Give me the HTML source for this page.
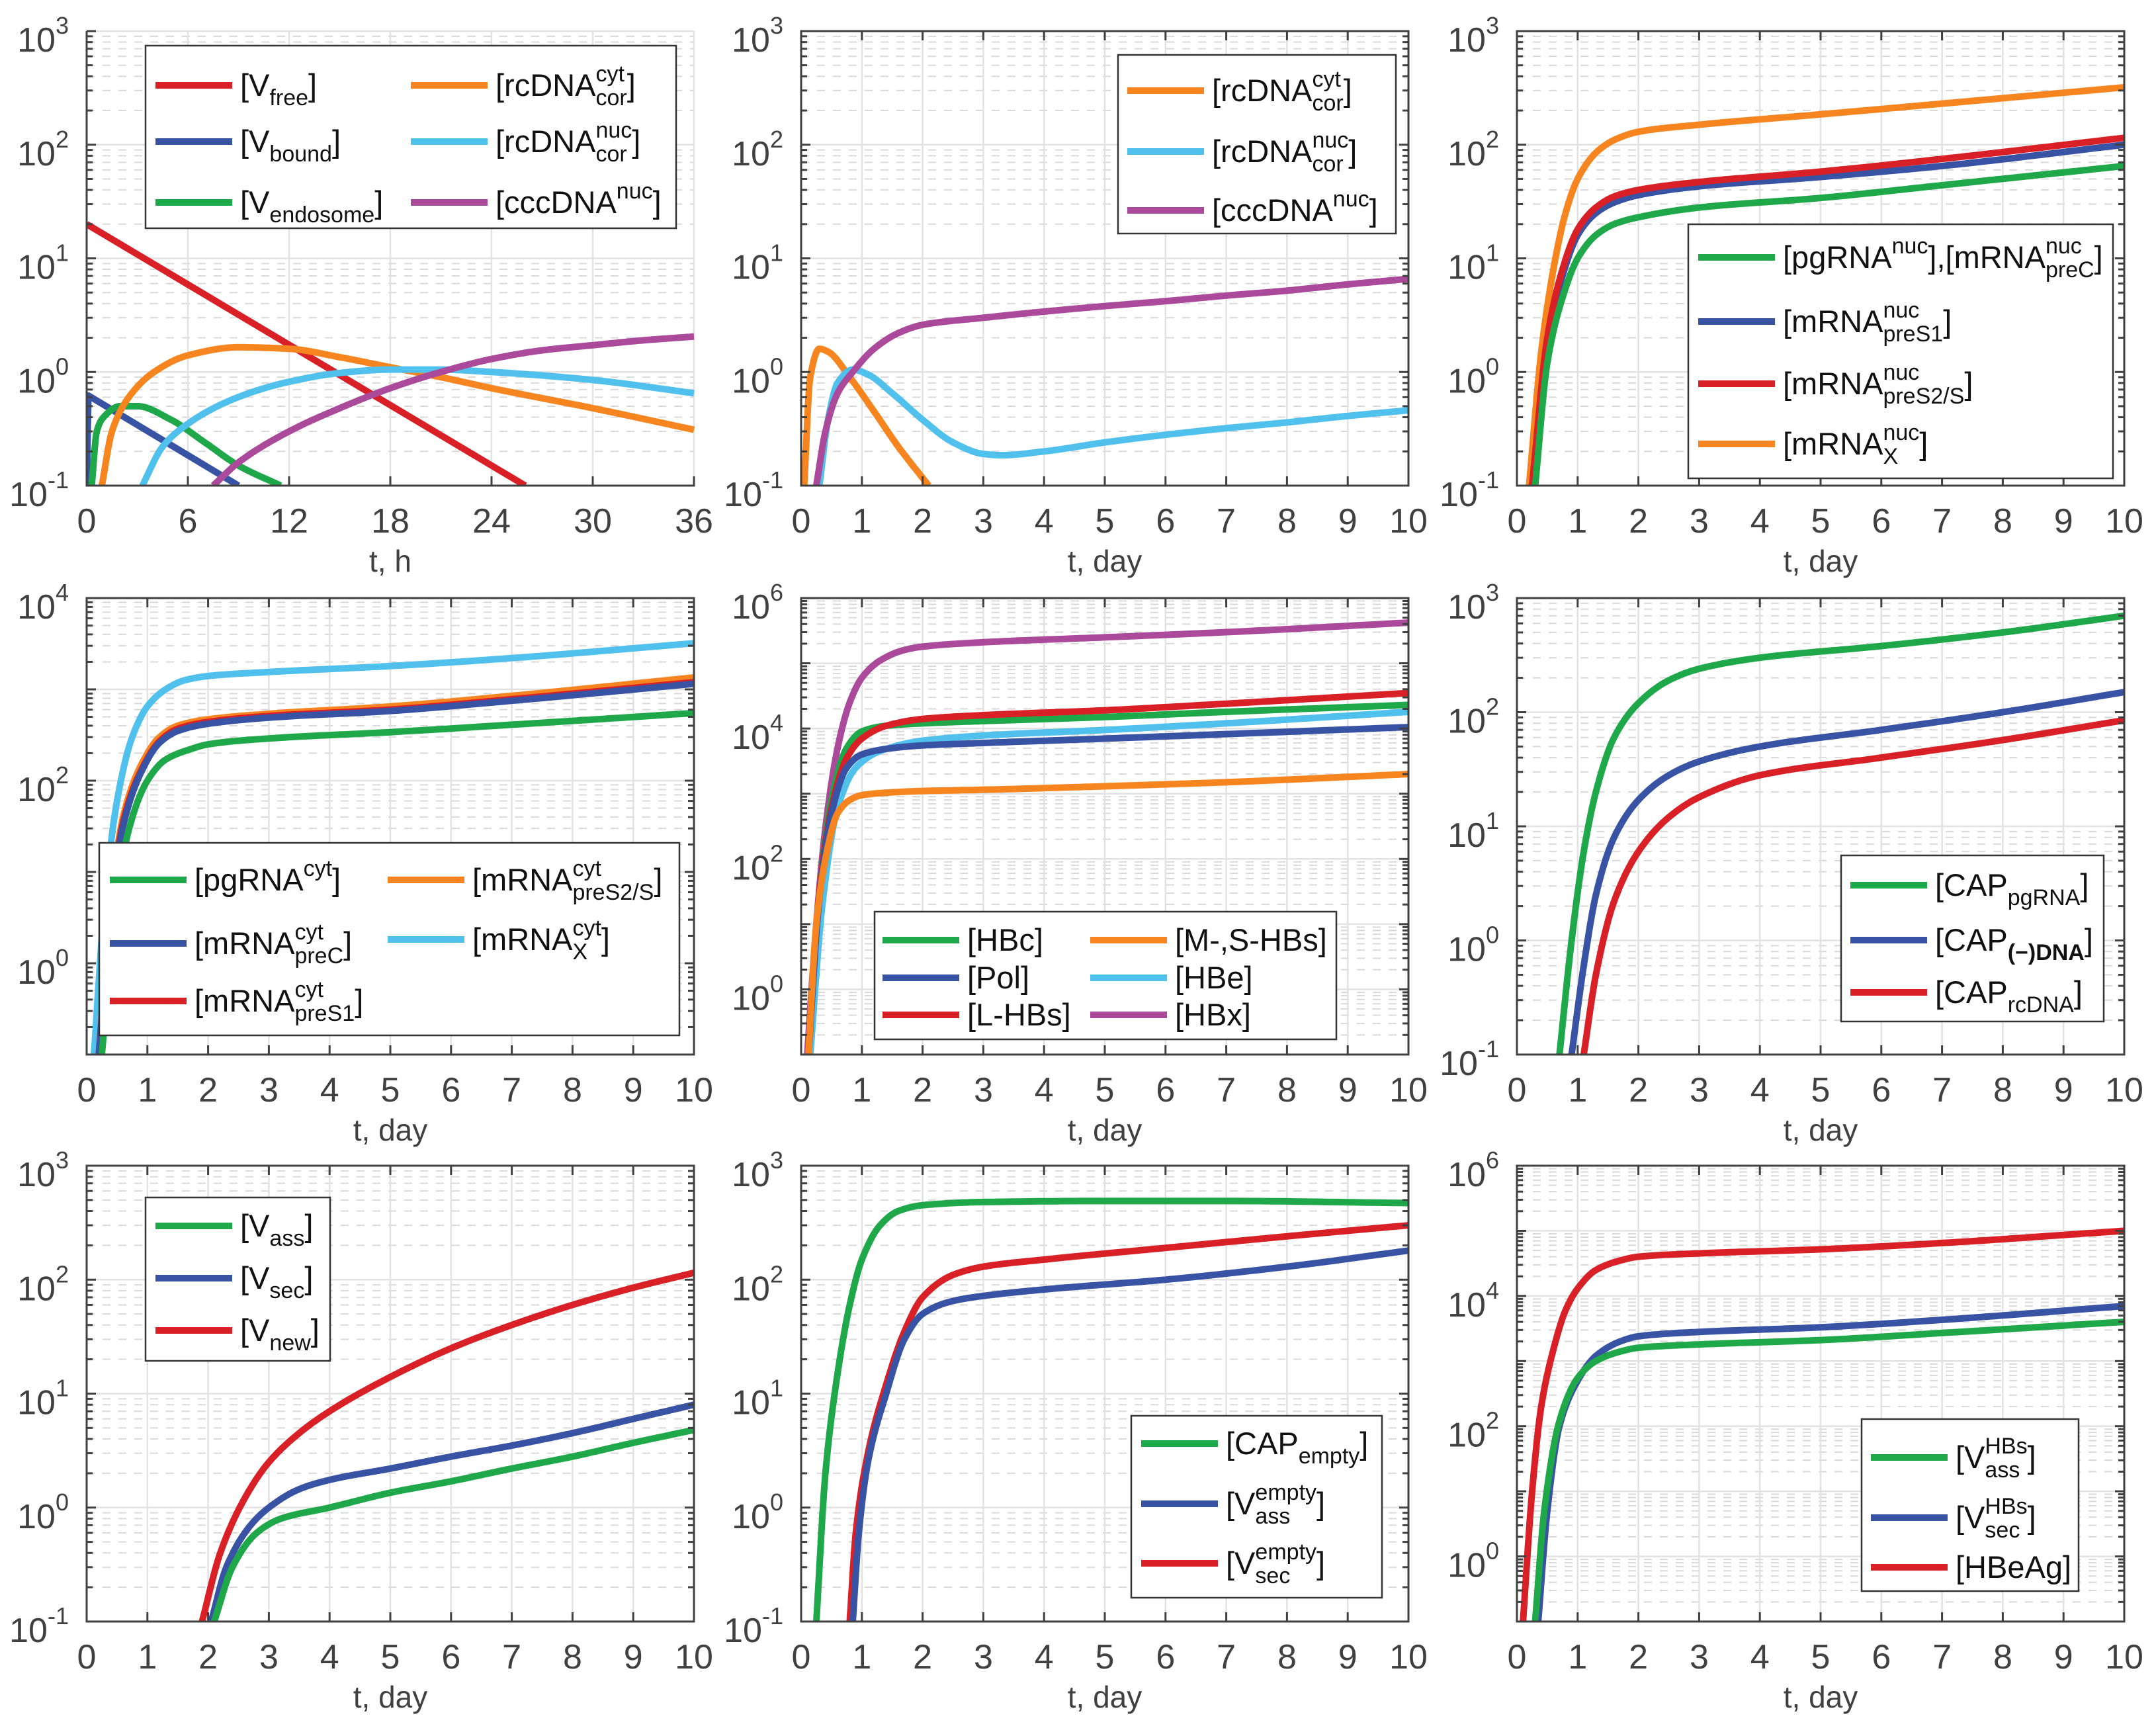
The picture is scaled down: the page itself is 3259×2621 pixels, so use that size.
<!DOCTYPE html>
<html><head><meta charset="utf-8"><style>
html,body{margin:0;padding:0;background:#fff;}
svg{display:block;font-family:"Liberation Sans",Arial,sans-serif;}
</style></head><body>
<svg id="fig" width="3259" height="2621" viewBox="0 0 3259 2621" xmlns="http://www.w3.org/2000/svg"></svg>
<script>
// ===== data =====
const C={red:'#d92027',blue:'#3953a4',green:'#1ea84a',orange:'#f6841f',cyan:'#50c1ec',purple:'#ab4a9b'};
const p1Vfree=[[0,20],[26,0.1]];
const p1Vbound=[[0,0.1],[0.1,0.62],[9,0.1]];
const p1Vendo=[[0.3,0.1],[0.6,0.3],[1,0.4],[2,0.5],[3,0.5],[5,0.38],[7,0.24],[9,0.15],[11.5,0.1]];
const p1RcCyt=[[0.9,0.1],[1.5,0.3],[2.5,0.6],[4,1.0],[6,1.4],[9,1.65],[12,1.6],[15,1.35],[18,1.1],[21,0.9],[24,0.72],[30,0.48],[36,0.31]];
const p1RcNuc=[[3.3,0.1],[4.5,0.22],[6,0.35],[8,0.52],[10,0.68],[12,0.82],[15,0.98],[18,1.05],[21,1.05],[24,1.0],[30,0.85],[36,0.65]];
const p1ccc=[[7.5,0.1],[9,0.16],[12,0.3],[15,0.48],[18,0.72],[21,1.0],[24,1.3],[27,1.55],[30,1.72],[33,1.9],[36,2.05]];
const p2RcCyt=[[0.05,0.1],[0.15,0.9],[0.3,1.6],[0.45,1.5],[0.8,0.9],[1.2,0.45],[1.6,0.22],[2.1,0.1]];
const p2RcNuc=[[0.3,0.1],[0.45,0.4],[0.6,0.8],[0.85,1.05],[1.1,0.95],[1.5,0.65],[2,0.38],[2.5,0.24],[3,0.19],[3.3,0.185],[4,0.2],[5,0.24],[6,0.28],[7,0.32],[8,0.36],[9,0.41],[10,0.46]];
const p2ccc=[[0.25,0.1],[0.4,0.3],[0.6,0.65],[0.85,1.0],[1.2,1.6],[1.6,2.2],[2,2.6],[3,3.0],[4,3.4],[5,3.8],[6,4.2],[7,4.7],[8,5.2],[9,5.9],[10,6.6]];
const p3X=[[0.2,0.1],[0.4,1.5],[0.6,8],[0.8,25],[1,50],[1.3,85],[1.6,110],[2,130],[3,150],[5,185],[7,230],[10,320]];
const p3S2=[[0.25,0.1],[0.5,2],[0.75,8],[1,18],[1.3,28],[1.6,35],[2,40],[3,47],[5,58],[7,75],[10,115]];
const p3S1=[[0.25,0.1],[0.5,1.8],[0.75,7],[1,16],[1.3,25],[1.6,31],[2,36],[3,43],[5,52],[7,65],[10,100]];
const p3pg=[[0.3,0.1],[0.5,1.2],[0.75,4.5],[1,10],[1.3,16],[1.6,20],[2,23],[3,28],[5,34],[7,44],[10,65]];
const p4X=[[0.12,0.1],[0.3,5],[0.5,60],[0.75,300],[1,650],[1.3,1000],[1.6,1250],[2,1400],[3,1550],[5,1800],[7,2200],[10,3200]];
const p4S2=[[0.2,0.1],[0.4,5],[0.6,40],[0.9,150],[1.2,300],[1.5,400],[2,470],[3,540],[5,650],[7,850],[10,1350]];
const p4S1=[[0.2,0.1],[0.4,4],[0.6,35],[0.9,130],[1.2,270],[1.5,370],[2,440],[3,510],[5,600],[7,780],[10,1200]];
const p4preC=[[0.2,0.1],[0.4,4],[0.6,32],[0.9,125],[1.2,260],[1.5,350],[2,420],[3,490],[5,580],[7,750],[10,1150]];
const p4pg=[[0.25,0.1],[0.45,3],[0.7,30],[1,100],[1.3,170],[1.7,220],[2,250],[3,290],[5,340],[7,410],[10,550]];
const p5HBx=[[0.1,0.1],[0.25,10],[0.4,300],[0.6,5000],[0.8,25000],[1,60000],[1.3,110000],[1.7,160000],[2,180000],[3,210000],[5,250000],[7,300000],[10,420000]];
const p5L=[[0.12,0.1],[0.3,30],[0.5,600],[0.75,3500],[1,7000],[1.4,11000],[2,14000],[3,16000],[5,19000],[7,24000],[10,35000]];
const p5HBc=[[0.12,0.1],[0.3,30],[0.5,800],[0.75,5000],[1,9000],[1.4,11000],[2,12000],[3,13000],[5,15000],[7,18000],[10,23000]];
const p5HBe=[[0.15,0.1],[0.35,20],[0.6,600],[0.9,2500],[1.3,4500],[2,6500],[3,7800],[5,9500],[7,12000],[10,18000]];
const p5Pol=[[0.12,0.1],[0.3,25],[0.5,500],[0.75,2500],[1,4000],[1.5,5000],[2,5500],[3,6000],[5,7000],[7,8200],[10,10500]];
const p5MS=[[0.12,0.1],[0.25,10],[0.4,100],[0.6,500],[0.8,800],[1,950],[1.5,1050],[2,1100],[3,1150],[5,1300],[7,1500],[10,2000]];
const p6pg=[[0.7,0.1],[0.9,1],[1.1,6],[1.3,20],[1.6,60],[2,120],[2.5,190],[3,240],[4,300],[6,380],[8,500],[10,700]];
const p6neg=[[0.9,0.1],[1.1,0.6],[1.3,2.5],[1.6,8],[2,17],[2.5,28],[3,37],[4,50],[6,70],[8,100],[10,150]];
const p6rc=[[1.1,0.1],[1.3,0.5],[1.6,2.2],[2,6],[2.5,12],[3,18],[4,28],[6,40],[8,57],[10,85]];
const p7new=[[1.9,0.1],[2.2,0.4],[2.6,1.2],[3,2.5],[3.5,4.5],[4,7],[5,14],[6,25],[7,40],[8,60],[9,85],[10,115]];
const p7sec=[[2.05,0.1],[2.3,0.3],[2.7,0.7],[3,1.0],[3.5,1.45],[4,1.75],[5,2.2],[6,2.8],[7,3.5],[8,4.5],[9,6],[10,8]];
const p7ass=[[2.1,0.1],[2.4,0.3],[2.8,0.6],[3.2,0.8],[4,1.0],[5,1.35],[6,1.7],[7,2.2],[8,2.8],[9,3.7],[10,4.8]];
const p8cap=[[0.25,0.1],[0.4,2],[0.6,15],[0.8,60],[1,150],[1.3,300],[1.6,400],[2,450],[3,480],[5,490],[7,490],[10,470]];
const p8sec=[[0.8,0.1],[0.9,0.6],[1.1,3],[1.4,12],[1.7,35],[2,70],[2.5,110],[3,130],[4,150],[6,190],[8,240],[10,300]];
const p8ass=[[0.85,0.1],[0.95,0.6],[1.1,2.5],[1.4,10],[1.7,30],[2,50],[2.5,65],[3,72],[4,82],[6,100],[8,130],[10,180]];
const p9HBeAg=[[0.1,0.1],[0.25,10],[0.4,200],[0.6,1500],[0.8,6000],[1,13000],[1.3,25000],[1.7,35000],[2,40000],[3,45000],[5,52000],[7,65000],[10,100000]];
const p9sec=[[0.35,0.1],[0.5,5],[0.7,100],[1,500],[1.3,1200],[1.7,2000],[2,2400],[3,2800],[5,3300],[7,4300],[10,7000]];
const p9ass=[[0.3,0.1],[0.45,5],[0.7,120],[1,550],[1.3,1000],[1.7,1400],[2,1600],[3,1800],[5,2100],[7,2700],[10,4000]];
const xTicksH=[0,6,12,18,24,30,36];
const xTicksD=[0,1,2,3,4,5,6,7,8,9,10];
const yTicksAll=[-1,0,1,2,3];
const yTicksEven4=[0,2,4];
const yTicksEven6=[0,2,4,6];

const L={
Vfree:[['[V','n'],['free','sub'],[']','n']],
Vbound:[['[V','n'],['bound','sub'],[']','n']],
Vendo:[['[V','n'],['endosome','sub'],[']','n']],
rcCyt:[['[rcDNA','n'],[['cyt','cor'],'ss'],[']','n']],
rcNuc:[['[rcDNA','n'],[['nuc','cor'],'ss'],[']','n']],
ccc:[['[cccDNA','n'],[' nuc','sup'],[']','n']],
pgmr:[['[pgRNA','n'],['nuc','sup'],['],[mRNA','n'],[['nuc','preC'],'ss'],[']','n']],
mS1n:[['[mRNA','n'],[['nuc','preS1'],'ss'],[']','n']],
mS2n:[['[mRNA','n'],[['nuc','preS2/S'],'ss'],[']','n']],
mXn:[['[mRNA','n'],[['nuc','X'],'ss'],[']','n']],
pgc:[['[pgRNA','n'],['cyt','sup'],[']','n']],
mpreCc:[['[mRNA','n'],[['cyt','preC'],'ss'],[']','n']],
mS1c:[['[mRNA','n'],[['cyt','preS1'],'ss'],[']','n']],
mS2c:[['[mRNA','n'],[['cyt','preS2/S'],'ss'],[']','n']],
mXc:[['[mRNA','n'],[['cyt','X'],'ss'],[']','n']],
HBc:[['[HBc]','n']],Pol:[['[Pol]','n']],LHBs:[['[L-HBs]','n']],MS:[['[M-,S-HBs]','n']],HBe:[['[HBe]','n']],HBx:[['[HBx]','n']],
CAPpg:[['[CAP','n'],['pgRNA','sub'],[']','n']],
CAPneg:[['[CAP','n'],['(\u2212)DNA','subb'],[']','n']],
CAPrc:[['[CAP','n'],['rcDNA','sub'],[']','n']],
Vass:[['[V','n'],['ass','sub'],[']','n']],Vsec:[['[V','n'],['sec','sub'],[']','n']],Vnew:[['[V','n'],['new','sub'],[']','n']],
CAPe:[['[CAP','n'],['empty','sub'],[']','n']],
Vae:[['[V','n'],[['empty','ass'],'ss'],[']','n']],
Vse:[['[V','n'],[['empty','sec'],'ss'],[']','n']],
VaH:[['[V','n'],[['HBs','ass'],'ss'],[']','n']],
VsH:[['[V','n'],[['HBs','sec'],'ss'],[']','n']],
HBeAg:[['[HBeAg]','n']]
};

const panels=[
{name:'panel-virus-entry',x0:131,x1:1049,y0:47,y1:734,xmax:36,xt:xTicksH,xl:'t, h',yd:[-1,3],yt:yTicksAll,lightBox:true,
 series:[['v-free',p1Vfree,C.red],['v-bound',p1Vbound,C.blue],['v-endosome',p1Vendo,C.green],['rcdna-cyt',p1RcCyt,C.orange],['rcdna-nuc',p1RcNuc,C.cyan],['cccdna',p1ccc,C.purple]],
 legend:{box:[220,69,1022,345],items:[[235,129,C.red,'Vfree'],[235,214,C.blue,'Vbound'],[235,306,C.green,'Vendo'],[621,129,C.orange,'rcCyt'],[621,214,C.cyan,'rcNuc'],[621,306,C.purple,'ccc']]}},
{name:'panel-cccdna',x0:1211,x1:2129,y0:47,y1:734,xmax:10,xt:xTicksD,xl:'t, day',yd:[-1,3],yt:yTicksAll,
 series:[['rcdna-cyt',p2RcCyt,C.orange],['rcdna-nuc',p2RcNuc,C.cyan],['cccdna',p2ccc,C.purple]],
 legend:{box:[1690,83,2110,353],items:[[1704,137,C.orange,'rcCyt'],[1704,229,C.cyan,'rcNuc'],[1704,318,C.purple,'ccc']]}},
{name:'panel-nuclear-rna',x0:2293,x1:3211,y0:47,y1:734,xmax:10,xt:xTicksD,xl:'t, day',yd:[-1,3],yt:yTicksAll,
 series:[['mrna-x',p3X,C.orange],['mrna-pres1',p3S1,C.blue],['mrna-pres2s',p3S2,C.red],['pgrna',p3pg,C.green]],
 legend:{box:[2552,339,3194,723],items:[[2567,389,C.green,'pgmr'],[2567,486,C.blue,'mS1n'],[2567,580,C.red,'mS2n'],[2567,671,C.orange,'mXn']]}},
{name:'panel-cyt-rna',x0:131,x1:1049,y0:904,y1:1594,xmax:10,xt:xTicksD,xl:'t, day',yd:[-1,4],yt:yTicksEven4,
 series:[['mrna-x',p4X,C.cyan],['mrna-pres2s',p4S2,C.orange],['mrna-pres1',p4S1,C.red],['mrna-prec',p4preC,C.blue],['pgrna',p4pg,C.green]],
 legend:{box:[150,1274,1027,1565],items:[[166,1330,C.green,'pgc'],[166,1426,C.blue,'mpreCc'],[166,1513,C.red,'mS1c'],[586,1330,C.orange,'mS2c'],[586,1420,C.cyan,'mXc']]}},
{name:'panel-proteins',x0:1211,x1:2129,y0:904,y1:1594,xmax:10,xt:xTicksD,xl:'t, day',yd:[-1,6],yt:yTicksEven6,
 series:[['hbx',p5HBx,C.purple],['hbc',p5HBc,C.green],['l-hbs',p5L,C.red],['hbe',p5HBe,C.cyan],['pol',p5Pol,C.blue],['ms-hbs',p5MS,C.orange]],
 legend:{box:[1322,1378,2020,1571],items:[[1334,1421,C.green,'HBc'],[1334,1478,C.blue,'Pol'],[1334,1534,C.red,'LHBs'],[1648,1421,C.orange,'MS'],[1648,1478,C.cyan,'HBe'],[1648,1534,C.purple,'HBx']]}},
{name:'panel-capsids',x0:2293,x1:3211,y0:904,y1:1594,xmax:10,xt:xTicksD,xl:'t, day',yd:[-1,3],yt:yTicksAll,
 series:[['cap-pgrna',p6pg,C.green],['cap-neg-dna',p6neg,C.blue],['cap-rcdna',p6rc,C.red]],
 legend:{box:[2783,1293,3180,1544],items:[[2797,1338,C.green,'CAPpg'],[2797,1421,C.blue,'CAPneg'],[2797,1500,C.red,'CAPrc']]}},
{name:'panel-virions',x0:131,x1:1049,y0:1762,y1:2451,xmax:10,xt:xTicksD,xl:'t, day',yd:[-1,3],yt:yTicksAll,
 series:[['v-new',p7new,C.red],['v-sec',p7sec,C.blue],['v-ass',p7ass,C.green]],
 legend:{box:[220,1810,499,2057],items:[[235,1853,C.green,'Vass'],[235,1932,C.blue,'Vsec'],[235,2011,C.red,'Vnew']]}},
{name:'panel-empty',x0:1211,x1:2129,y0:1762,y1:2451,xmax:10,xt:xTicksD,xl:'t, day',yd:[-1,3],yt:yTicksAll,
 series:[['cap-empty',p8cap,C.green],['v-sec-empty',p8sec,C.red],['v-ass-empty',p8ass,C.blue]],
 legend:{box:[1710,2140,2089,2415],items:[[1725,2182,C.green,'CAPe'],[1725,2273,C.blue,'Vae'],[1725,2363,C.red,'Vse']]}},
{name:'panel-hbs',x0:2293,x1:3211,y0:1762,y1:2451,xmax:10,xt:xTicksD,xl:'t, day',yd:[-1,6],yt:yTicksEven6,
 series:[['hbeag',p9HBeAg,C.red],['v-sec-hbs',p9sec,C.blue],['v-ass-hbs',p9ass,C.green]],
 legend:{box:[2814,2145,3142,2405],items:[[2828,2203,C.green,'VaH'],[2828,2294,C.blue,'VsH'],[2828,2369,C.red,'HBeAg']]}}
];

// ===== drawing =====
const NS='http://www.w3.org/2000/svg';
const svg=document.getElementById('fig');
function mk(tag,attrs,parent){const e=document.createElementNS(NS,tag);for(const k in attrs)e.setAttribute(k,attrs[k]);(parent||svg).appendChild(e);return e;}
const defs=mk('defs',{});
const AX='#404040',TF=52,TS=36,LF=47,LS=34;

function measure(str,size,weight){
  const t=mk('text',{x:-9999,y:-9999,'font-size':size,'font-weight':weight||'normal'});
  t.textContent=str;const w=t.getComputedTextLength();svg.removeChild(t);return w;}

function monoSample(data){
  const xs=data.map(p=>p[0]),ys=data.map(p=>Math.log10(p[1]));const n=xs.length;
  if(n<=3)return xs.map((x,i)=>[x,ys[i]]);
  const d=[],m=new Array(n);
  for(let i=0;i<n-1;i++)d.push((ys[i+1]-ys[i])/(xs[i+1]-xs[i]));
  m[0]=d[0];m[n-1]=d[n-2];
  for(let i=1;i<n-1;i++){ if(d[i-1]*d[i]<=0)m[i]=0; else{const h0=xs[i]-xs[i-1],h1=xs[i+1]-xs[i];const w1=2*h1+h0,w2=h1+2*h0;m[i]=(w1+w2)/(w1/d[i-1]+w2/d[i]);}}
  const out=[];
  for(let i=0;i<n-1;i++){const h=xs[i+1]-xs[i];const N=24;
    for(let k=0;k<N;k++){const t=k/N,t2=t*t,t3=t2*t;
      const y=(2*t3-3*t2+1)*ys[i]+(t3-2*t2+t)*h*m[i]+(-2*t3+3*t2)*ys[i+1]+(t3-t2)*h*m[i+1];
      out.push([xs[i]+t*h,y]);}}
  out.push([xs[n-1],ys[n-1]]);return out;}

panels.forEach((P,pi)=>{
  const g=mk('g',{});
  
  
  const sx=v=>P.x0+(v/P.xmax)*(P.x1-P.x0);
  const syE=e=>P.y1-((e-P.yd[0])/(P.yd[1]-P.yd[0]))*(P.y1-P.y0);
  const sy=v=>syE(Math.log10(v));
  const grid=mk('g',{},g);
  
  
  for(let e=P.yd[0];e<P.yd[1];e++){
    for(let m=2;m<=9;m++){const y=sy(m*Math.pow(10,e));
      mk('line',{x1:P.x0,x2:P.x1,y1:y,y2:y,stroke:'#d9d9d9','stroke-width':2,'stroke-dasharray':'12,12'},grid);}
  }
  for(let e=P.yd[0];e<=P.yd[1];e++){const y=syE(e);
    mk('line',{x1:P.x0,x2:P.x1,y1:y,y2:y,stroke:'#e2e2e2','stroke-width':2.5},grid);}
  P.xt.forEach(v=>{const x=sx(v);mk('line',{x1:x,x2:x,y1:P.y0,y2:P.y1,stroke:'#e2e2e2','stroke-width':2.5},grid);});
  const cid='clip'+pi;
  const cp=mk('clipPath',{id:cid},defs);
  mk('rect',{x:P.x0,y:P.y0-6,width:P.x1-P.x0+6,height:P.y1-P.y0+6},cp);
  const sg=mk('g',{'clip-path':'url(#'+cid+')'},g);
  P.series.forEach(s=>{
    const pts=monoSample(s[1]).map(p=>[sx(p[0]),syE(p[1])]);
    const d='M'+pts.map(p=>p[0].toFixed(1)+','+p[1].toFixed(1)).join('L');
    const path=mk('path',{d:d,fill:'none',stroke:s[2],'stroke-width':10,'stroke-linejoin':'round'},sg);
    
    
  });
  const ax=mk('g',{},g);
  
  
  mk('line',{x1:P.x0,x2:P.x0,y1:P.y0,y2:P.y1+1.5,stroke:AX,'stroke-width':3},ax);
  mk('line',{x1:P.x0-1.5,x2:P.x1+1.5,y1:P.y1,y2:P.y1,stroke:AX,'stroke-width':3},ax);
  if(!P.lightBox){
    mk('line',{x1:P.x1,x2:P.x1,y1:P.y0,y2:P.y1,stroke:AX,'stroke-width':3},ax);
    mk('line',{x1:P.x0-1.5,x2:P.x1+1.5,y1:P.y0,y2:P.y0,stroke:AX,'stroke-width':3},ax);
  }
  for(let e=P.yd[0];e<=P.yd[1];e++){
    for(let m=1;m<=9;m++){ if(e===P.yd[1]&&m>1)break;
      const y=sy(m*Math.pow(10,e)); const len=m===1?14:9;
      mk('line',{x1:P.x0,x2:P.x0+len,y1:y,y2:y,stroke:AX,'stroke-width':3},ax);
      if(!P.lightBox) mk('line',{x1:P.x1,x2:P.x1-len,y1:y,y2:y,stroke:AX,'stroke-width':3},ax);
    }
  }
  P.yt.forEach(e=>{
    const y=syE(e);
    const t=mk('text',{x:P.x0-27,y:y+31,'text-anchor':'end',fill:AX,'font-size':TF},g);
    
    
    const a=document.createElementNS(NS,'tspan');a.textContent='10';t.appendChild(a);
    const b=document.createElementNS(NS,'tspan');b.setAttribute('font-size',TS);b.setAttribute('dy',-27);b.textContent=String(e);t.appendChild(b);
  });
  P.xt.forEach(v=>{
    const x=sx(v);
    mk('line',{x1:x,x2:x,y1:P.y1,y2:P.y1-14,stroke:AX,'stroke-width':3},ax);
    if(!P.lightBox) mk('line',{x1:x,x2:x,y1:P.y0,y2:P.y0+14,stroke:AX,'stroke-width':3},ax);
    const t=mk('text',{x:x,y:P.y1+71,'text-anchor':'middle',fill:AX,'font-size':TF},g);
    
    
    t.textContent=v;
  });
  const xt=mk('text',{x:(P.x0+P.x1)/2,y:P.y1+130,'text-anchor':'middle',fill:AX,'font-size':46},g);
  
  
  xt.textContent=P.xl;
  const lg=mk('g',{},g);
  
  
  const b=P.legend.box;
  mk('rect',{x:b[0],y:b[1],width:b[2]-b[0],height:b[3]-b[1],fill:'#fff',stroke:'#333','stroke-width':2.5},lg);
  P.legend.items.forEach(it=>{
    const eg=mk('g',{},lg);
    
    
    mk('line',{x1:it[0],x2:it[0]+116,y1:it[1],y2:it[1],stroke:it[2],'stroke-width':10},eg);
    let x=it[0]+128; const base=it[1]+16;
    L[it[3]].forEach(seg=>{
      const [txt,type]=seg;
      if(type==='n'){const t=mk('text',{x:x,y:base,'font-size':LF,fill:'#111'},eg);t.textContent=txt;x+=measure(txt,LF);}
      else if(type==='sub'||type==='subb'){const fw=type==='subb'?'bold':'normal';const t=mk('text',{x:x,y:base+14,'font-size':LS,fill:'#111','font-weight':fw},eg);t.textContent=txt;x+=measure(txt,LS,fw);}
      else if(type==='sup'){const t=mk('text',{x:x,y:base-22,'font-size':LS,fill:'#111'},eg);t.textContent=txt;x+=measure(txt,LS);}
      else if(type==='ss'){const t1=mk('text',{x:x,y:base-22,'font-size':LS,fill:'#111'},eg);t1.textContent=txt[0];
        const t2=mk('text',{x:x,y:base+14,'font-size':LS,fill:'#111'},eg);t2.textContent=txt[1];
        x+=Math.max(measure(txt[0],LS),measure(txt[1],LS));}
    });
  });
});
</script>
</body></html>
